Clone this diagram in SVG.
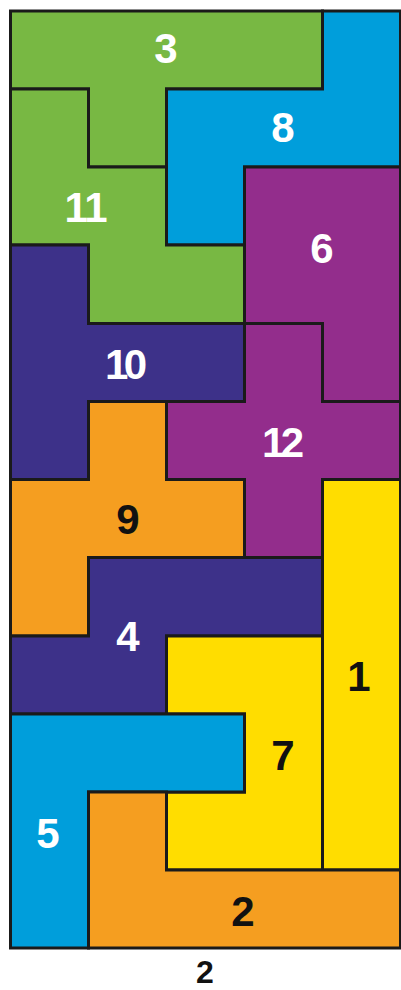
<svg xmlns="http://www.w3.org/2000/svg" width="401" height="990" viewBox="0 0 401 990">
<style>
.p{stroke:#1a1a1a;stroke-width:3;stroke-linejoin:miter}
.g{fill:#78b843}.b{fill:#009edb}.v{fill:#932d8c}.i{fill:#3d3189}.o{fill:#f59e20}.y{fill:#ffdd00}
text{font-family:"Liberation Sans",Arial,sans-serif;font-weight:bold;font-size:42px;text-anchor:middle}
.w{fill:#ffffff}.k{fill:#111111}
</style>
<rect width="401" height="990" fill="#ffffff"/>
<g id="piece3"><path class="p g" d="M10.5,11H322.5V89H166.5V167H88.5V89H10.5Z"/><text class="w" x="166" y="63">3</text></g>
<g id="piece8"><path class="p b" d="M322.5,11H400.5V167H244.5V245H166.5V89H322.5Z"/><text class="w" x="283" y="142">8</text></g>
<g id="piece11"><path class="p g" d="M10.5,89H88.5V167H166.5V245H244.5V323.5H88.5V245H10.5Z"/><text class="w" x="86" y="222" textLength="43" lengthAdjust="spacing">11</text></g>
<g id="piece6"><path class="p v" d="M244.5,167H400.5V401.5H322.5V323.5H244.5Z"/><text class="w" x="322" y="263">6</text></g>
<g id="piece10"><path class="p i" d="M10.5,245H88.5V323.5H244.5V401.5H88.5V479.5H10.5Z"/><text class="w" x="126" y="379" textLength="42" lengthAdjust="spacing">10</text></g>
<g id="piece12"><path class="p v" d="M244.5,323.5H322.5V401.5H400.5V479.5H322.5V557.5H244.5V479.5H166.5V401.5H244.5Z"/><text class="w" x="283" y="457" textLength="42" lengthAdjust="spacing">12</text></g>
<g id="piece9"><path class="p o" d="M88.5,401.5H166.5V479.5H244.5V557.5H88.5V636H10.5V479.5H88.5Z"/><text class="k" x="128" y="534">9</text></g>
<g id="piece1"><path class="p y" d="M322.5,479.5H400.5V870H322.5Z"/><text class="k" x="359" y="691">1</text></g>
<g id="piece4"><path class="p i" d="M88.5,557.5H322.5V636H166.5V714H10.5V636H88.5Z"/><text class="w" x="128" y="651">4</text></g>
<g id="piece7"><path class="p y" d="M166.5,636H322.5V870H166.5V792H244.5V714H166.5Z"/><text class="k" x="283" y="770">7</text></g>
<g id="piece5"><path class="p b" d="M10.5,714H244.5V792H88.5V948H10.5Z"/><text class="w" x="48" y="848">5</text></g>
<g id="piece2"><path class="p o" d="M88.5,792H166.5V870H400.5V948H88.5Z"/><text class="k" x="243" y="926">2</text></g>
<g id="connectors"></g>
<text class="k" x="205" y="983" style="font-size:32px">2</text>
</svg>
